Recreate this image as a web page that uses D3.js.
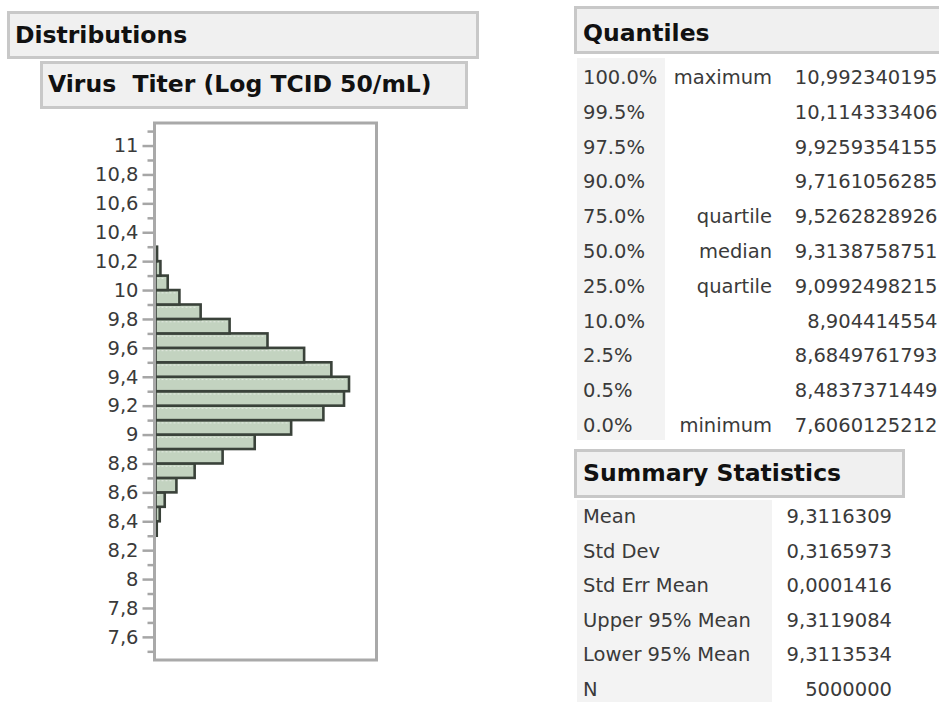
<!DOCTYPE html>
<html>
<head>
<meta charset="utf-8">
<script src="https://cdn.jsdelivr.net/npm/d3@7"></script>
<style>
  html, body { margin: 0; padding: 0; background: #ffffff; }
  svg { display: block; }
  text { font-family: "DejaVu Sans", sans-serif; white-space: pre; }
</style>
</head>
<body>
<svg id="report" width="939" height="702"></svg>
<script>
// Histogram bins (Log TCID 50/mL): lower edges, upper edges and counts
const binLow  = [8.3, 8.4, 8.5, 8.6, 8.7, 8.8, 8.9, 9.0, 9.1, 9.2, 9.3, 9.4, 9.5, 9.6, 9.7, 9.8, 9.9, 10.0, 10.1, 10.2];
const binHigh = [8.4, 8.5, 8.6, 8.7, 8.8, 8.9, 9.0, 9.1, 9.2, 9.3, 9.4, 9.5, 9.6, 9.7, 9.8, 9.9, 10.0, 10.1, 10.2, 10.3];
const binCount = [4000, 13600, 29600, 67100, 125600, 215300, 318300, 435200, 538600, 604800,
                  620800, 564200, 476800, 359300, 237700, 144800, 76700, 39200, 15800, 5000];

// Axis ticks
const majorTicks = [7.6, 7.8, 8, 8.2, 8.4, 8.6, 8.8, 9, 9.2, 9.4, 9.6, 9.8, 10, 10.2, 10.4, 10.6, 10.8, 11];
const minorTicks = [7.5, 7.7, 7.9, 8.1, 8.3, 8.5, 8.7, 8.9, 9.1, 9.3, 9.5, 9.7, 9.9, 10.1, 10.3, 10.5, 10.7, 10.9, 11.1];

// Quantiles table
const quantilePct   = ["100.0%", "99.5%", "97.5%", "90.0%", "75.0%", "50.0%", "25.0%", "10.0%", "2.5%", "0.5%", "0.0%"];
const quantileName  = ["maximum", "", "", "", "quartile", "median", "quartile", "", "", "", "minimum"];
const quantileValue = ["10,992340195", "10,114333406", "9,9259354155", "9,7161056285", "9,5262828926",
                       "9,3138758751", "9,0992498215", "8,904414554", "8,6849761793", "8,4837371449", "7,6060125212"];

// Summary statistics table
const summaryLabel = ["Mean", "Std Dev", "Std Err Mean", "Upper 95% Mean", "Lower 95% Mean", "N"];
const summaryValue = ["9,3116309", "0,3165973", "0,0001416", "9,3119084", "9,3113534", "5000000"];

const svg = d3.select("#report");
const TEXT = "#3a3a3a";
const PANEL_FILL = "#f0f0f0";
const PANEL_EDGE = "#c8c8c8";

// Outline header boxes
function headerBox(x, y, w, h, label, tx, ty) {
  svg.append("rect")
    .attr("x", x).attr("y", y).attr("width", w).attr("height", h)
    .attr("fill", PANEL_FILL).attr("stroke", PANEL_EDGE).attr("stroke-width", 3);
  svg.append("text")
    .attr("x", tx).attr("y", ty)
    .attr("xml:space", "preserve")
    .attr("font-size", 23.5).attr("font-weight", "bold").attr("fill", "#111")
    .text(label);
}

headerBox(8.5, 12.5, 469, 45, "Distributions", 15, 43);
headerBox(41.5, 62.5, 425, 45, "Virus  Titer (Log TCID 50/mL)", 48, 92);
headerBox(575.5, 7.5, 380, 45, "Quantiles", 583, 41);
headerBox(575.5, 450.5, 328, 46, "Summary Statistics", 583, 481);

// ---- Histogram ----
const frame = { left: 154.5, right: 376.5, top: 123, bottom: 660 };

const y = d3.scaleLinear()
  .domain([7.44, 11.156])
  .range([frame.bottom, frame.top]);

const x = d3.scaleLinear()
  .domain([0, 709000])
  .range([frame.left + 1, frame.right]);

const bins = binLow.map((lo, i) => ({ lo, hi: binHigh[i], n: binCount[i] }));

svg.append("rect")
  .attr("x", frame.left).attr("y", frame.top)
  .attr("width", frame.right - frame.left).attr("height", frame.bottom - frame.top)
  .attr("fill", "#ffffff");

const barG = svg.append("g");
barG.selectAll("rect.bar")
  .data(bins)
  .join("rect")
  .attr("class", "bar")
  .attr("x", x(0))
  .attr("y", d => y(d.hi))
  .attr("width", d => Math.max(0.5, x(d.n) - x(0)))
  .attr("height", d => y(d.lo) - y(d.hi))
  .attr("fill", "#c3d3c0")
  .attr("stroke", "#3a423a")
  .attr("stroke-width", 2.6);

// faint dotted highlight just inside the top edge of each bar
barG.selectAll("line.hl")
  .data(bins.filter(d => x(d.n) - x(0) > 8))
  .join("line")
  .attr("class", "hl")
  .attr("x1", x(0) + 2)
  .attr("x2", d => x(d.n) - 3)
  .attr("y1", d => y(d.hi) + 2.8)
  .attr("y2", d => y(d.hi) + 2.8)
  .attr("stroke", "#e3eae1")
  .attr("stroke-width", 1)
  .attr("stroke-dasharray", "2,2");

// Frame around the plot
svg.append("rect")
  .attr("x", frame.left).attr("y", frame.top)
  .attr("width", frame.right - frame.left).attr("height", frame.bottom - frame.top)
  .attr("fill", "none").attr("stroke", "#a9a9a9").attr("stroke-width", 3);

// Y axis, decimal comma
const locale = d3.formatLocale({ decimal: ",", thousands: ".", grouping: [3], currency: ["", ""] });
const fmt = locale.format("~g");

const minorAxis = svg.append("g")
  .attr("transform", `translate(${frame.left - 1},0)`)
  .call(d3.axisLeft(y).tickValues(minorTicks).tickSize(6).tickFormat(""));
const majorAxis = svg.append("g")
  .attr("transform", `translate(${frame.left - 1},0)`)
  .call(d3.axisLeft(y).tickValues(majorTicks).tickSize(11).tickPadding(4).tickFormat(fmt));

[minorAxis, majorAxis].forEach(g => {
  g.select(".domain").remove();
  g.selectAll(".tick line").attr("stroke", "#a6a6a6").attr("stroke-width", 2.5);
  g.selectAll(".tick text")
    .attr("font-family", "DejaVu Sans, sans-serif")
    .attr("font-size", 19.5)
    .attr("fill", TEXT);
});

// ---- Quantiles table ----
const qRow0 = 84, qStep = 34.8;
svg.append("rect")
  .attr("x", 577).attr("y", 58).attr("width", 88).attr("height", 382)
  .attr("fill", "#f3f3f3");

const qG = svg.append("g").attr("font-size", 19.5).attr("fill", TEXT);
qG.selectAll("text.pct").data(quantilePct).join("text")
  .attr("class", "pct")
  .attr("x", 583).attr("y", (d, i) => qRow0 + i * qStep)
  .text(d => d);
qG.selectAll("text.name").data(quantileName).join("text")
  .attr("class", "name")
  .attr("x", 772).attr("y", (d, i) => qRow0 + i * qStep)
  .attr("text-anchor", "end")
  .text(d => d);
qG.selectAll("text.val").data(quantileValue).join("text")
  .attr("class", "val")
  .attr("x", 937.5).attr("y", (d, i) => qRow0 + i * qStep)
  .attr("text-anchor", "end")
  .text(d => d);

// ---- Summary statistics table ----
const sRow0 = 523, sStep = 34.6;
svg.append("rect")
  .attr("x", 577).attr("y", 500).attr("width", 195).attr("height", 202)
  .attr("fill", "#f3f3f3");

const sG = svg.append("g").attr("font-size", 19.5).attr("fill", TEXT);
sG.selectAll("text.lab").data(summaryLabel).join("text")
  .attr("class", "lab")
  .attr("x", 583).attr("y", (d, i) => sRow0 + i * sStep)
  .text(d => d);
sG.selectAll("text.sval").data(summaryValue).join("text")
  .attr("class", "sval")
  .attr("x", 892).attr("y", (d, i) => sRow0 + i * sStep)
  .attr("text-anchor", "end")
  .text(d => d);
</script>
</body>
</html>
